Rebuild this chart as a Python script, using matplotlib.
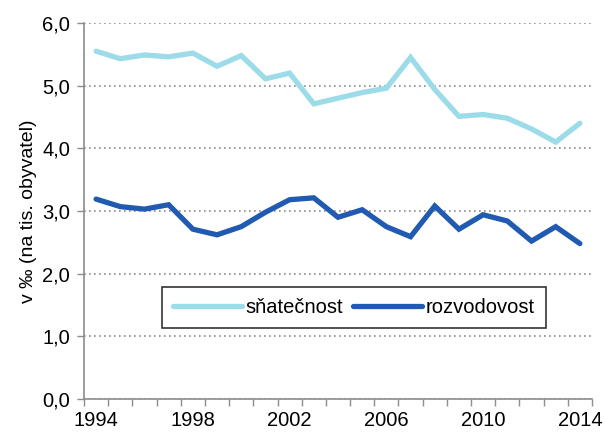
import numpy as np
import matplotlib
matplotlib.use('Agg')
import matplotlib.pyplot as plt
from matplotlib.ticker import FixedLocator, NullFormatter

plt.rcParams['font.family'] = ['Liberation Sans', 'DejaVu Sans']

# data
years = list(range(1994, 2015))
snatecnost = [5.55, 5.43, 5.49, 5.46, 5.52, 5.31, 5.48, 5.11, 5.20, 4.71,
              4.80, 4.89, 4.96, 5.45, 4.94, 4.51, 4.54, 4.48, 4.31, 4.10, 4.40]
rozvodovost = [3.19, 3.07, 3.03, 3.10, 2.71, 2.62, 2.75, 2.98, 3.18, 3.21,
               2.90, 3.02, 2.75, 2.59, 3.08, 2.71, 2.94, 2.84, 2.52, 2.75, 2.48]
y_ticks = [0, 1, 2, 3, 4, 5, 6]
x_label_years = [1994, 1998, 2002, 2006, 2010, 2014]

fig = plt.figure(figsize=(6.05, 4.32), dpi=100)
ax = fig.add_axes([84 / 605, 1 - 399 / 432, (592 - 84) / 605, (399 - 23) / 432])

x = np.arange(len(years))
ax.plot(x, snatecnost, color='#9cdce9', lw=3.8, solid_capstyle='round',
        solid_joinstyle='miter', label='sňatečnost')
ax.plot(x, rozvodovost, color='#215bb1', lw=3.8, solid_capstyle='round',
        solid_joinstyle='miter', label='rozvodovost')

ax.set_xlim(-0.5, len(years) - 0.5)
ax.set_ylim(0, 6)

# category axis: ticks between years, labels every 4 years
ax.xaxis.set_major_locator(FixedLocator(np.arange(-0.5, len(years), 1.0)))
ax.xaxis.set_major_formatter(NullFormatter())
ax.xaxis.set_minor_locator(FixedLocator([years.index(y) for y in x_label_years]))
ax.set_xticklabels([str(y) for y in x_label_years], minor=True)
ax.tick_params(axis='x', which='major', length=5, width=1, color='#8c8c8c', direction='out')
ax.tick_params(axis='x', which='minor', length=0, labelsize=14.5, pad=9)

ax.set_yticks(y_ticks)
ax.set_yticklabels([f'{v:.1f}'.replace('.', ',') for v in y_ticks])
ax.tick_params(axis='y', length=5, width=1, color='#8c8c8c', labelsize=14.5, pad=5)

ax.grid(axis='y', color='#8c8c8c', linestyle=(0, (1, 2)), linewidth=1.2)
ax.set_axisbelow(True)

for side in ['top', 'right']:
    ax.spines[side].set_visible(False)
for side in ['left', 'bottom']:
    ax.spines[side].set_color('#8c8c8c')
    ax.spines[side].set_linewidth(1.2)

ax.set_ylabel('v ‰ (na tis. obyvatel)', fontsize=14, labelpad=4)

leg = ax.legend(loc='center', bbox_to_anchor=((354 - 84) / 508, (399 - 307.5) / 376),
                ncol=2, frameon=True, fancybox=False, fontsize=14.5,
                handlelength=3.4, columnspacing=0.5, handletextpad=0.2,
                borderpad=0.55, borderaxespad=0)
leg.get_frame().set_edgecolor('black')
leg.get_frame().set_linewidth(1.2)

fig.savefig('out.png', dpi=100)
